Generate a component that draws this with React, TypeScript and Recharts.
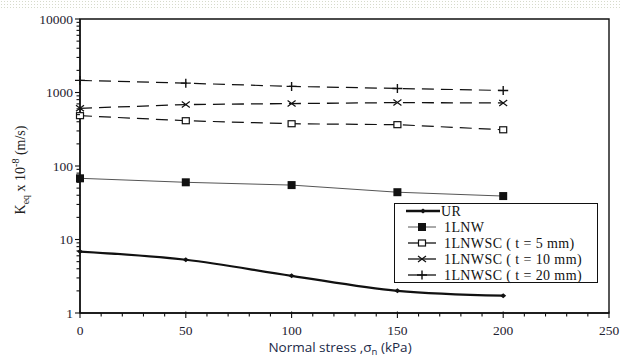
import React from "react";
import {
  LineChart,
  Line,
  XAxis,
  YAxis,
  Legend,
  ReferenceArea,
} from "recharts";

const stress = [0, 50, 100, 150, 200];
const ur = [6.85, 5.3, 3.2, 2.0, 1.72];
const lnw = [68, 60, 55, 44, 39];
const lnwsc5 = [484, 413, 376, 365, 311];
const lnwsc10 = [610, 685, 707, 729, 720];
const lnwsc20 = [1460, 1340, 1210, 1135, 1065];

const xTicks = [0, 10, 20, 30, 40, 50, 60, 70, 80, 90, 100, 110, 120, 130, 140, 150, 160, 170, 180, 190, 200, 210, 220, 230, 240, 250];
const xLabels = [0, 50, 100, 150, 200, 250];
const yLabels = [1, 10, 100, 1000, 10000];
const yTicks = [
  1, 2, 3, 4, 5, 6, 7, 8, 9,
  10, 20, 30, 40, 50, 60, 70, 80, 90,
  100, 200, 300, 400, 500, 600, 700, 800, 900,
  1000, 2000, 3000, 4000, 5000, 6000, 7000, 8000, 9000,
  10000,
];

const data = stress.map((s, i) => ({
  s,
  ur: ur[i],
  lnw: lnw[i],
  c5: lnwsc5[i],
  c10: lnwsc10[i],
  c20: lnwsc20[i],
}));

type Kind = "diamond" | "square" | "open" | "cross" | "plus";

const series: { key: string; name: string; kind: Kind; width: number; color: string; dash?: string; curve: "monotone" | "linear" }[] = [
  { key: "ur", name: "UR", kind: "diamond", width: 2.2, color: "#111", curve: "monotone" },
  { key: "lnw", name: "1LNW", kind: "square", width: 1, color: "#555", curve: "linear" },
  { key: "c5", name: "1LNWSC  ( t = 5 mm)", kind: "open", width: 1.2, color: "#111", dash: "12 7", curve: "linear" },
  { key: "c10", name: "1LNWSC ( t = 10 mm)", kind: "cross", width: 1.3, color: "#111", dash: "12 7", curve: "linear" },
  { key: "c20", name: "1LNWSC ( t = 20 mm)", kind: "plus", width: 1.2, color: "#111", dash: "12 7", curve: "linear" },
];

const serif = "'Liberation Serif', 'Times New Roman', serif";

function Marker({ kind, cx, cy }: { kind: Kind; cx: number; cy: number }) {
  if (kind === "diamond")
    return <path d={`M${cx - 3},${cy} L${cx},${cy - 2.5} L${cx + 3},${cy} L${cx},${cy + 2.5} Z`} fill="#111" />;
  if (kind === "square")
    return <rect x={cx - 4} y={cy - 4} width={8} height={8} fill="#111" />;
  if (kind === "open")
    return <rect x={cx - 3.5} y={cy - 3} width={7} height={6} fill="#fff" stroke="#111" strokeWidth={1.2} />;
  if (kind === "cross")
    return (
      <path d={`M${cx - 4},${cy - 3} L${cx + 4},${cy + 3} M${cx - 4},${cy + 3} L${cx + 4},${cy - 3}`} stroke="#111" strokeWidth={1.2} />
    );
  return (
    <path d={`M${cx - 5},${cy} L${cx + 5},${cy} M${cx},${cy - 4.5} L${cx},${cy + 4.5}`} stroke="#111" strokeWidth={1.4} />
  );
}

function YTick(props: any) {
  const { x, y, payload } = props;
  const major = yLabels.includes(payload.value);
  return (
    <g>
      <line x1={x - (major ? 5 : 3.5)} x2={x} y1={y} y2={y} stroke="#111" strokeWidth={1.1} />
      {major && (
        <text x={x - 7} y={y} textAnchor="end" dominantBaseline="central" fontFamily={serif} fontSize={13.5} fill="#1e2230">
          {payload.value}
        </text>
      )}
    </g>
  );
}

function XTick(props: any) {
  const { x, y, payload } = props;
  const major = xLabels.includes(payload.value);
  return (
    <g>
      <line x1={x} x2={x} y1={y - (major ? 1.5 : 0)} y2={y + (major ? 5 : 3.5)} stroke="#111" strokeWidth={1.1} />
      {major && (
        <text x={x} y={y + 17} textAnchor="middle" dominantBaseline="central" fontFamily={serif} fontSize={13.5} fill="#1e2230">
          {payload.value}
        </text>
      )}
    </g>
  );
}

function LegendBox() {
  return (
    <div
      style={{
        width: 204,
        height: 80,
        border: "1.3px solid #111",
        background: "#fff",
        boxSizing: "border-box",
      }}
    >
      <svg width={201} height={77} style={{ overflow: "visible" }}>
        {series.map((s, i) => {
          const y = 7 + i * 16;
          return (
            <g key={s.key}>
              <line x1={s.kind === "diamond" ? 11 : 13} x2={s.kind === "diamond" ? 45 : 41} y1={y} y2={y} stroke={s.color} strokeWidth={s.kind === "diamond" ? 2.4 : s.kind === "square" ? 1 : 1.3} />
              <Marker kind={s.kind} cx={s.kind === "diamond" ? 28 : 27} cy={y} />
              <text x={s.kind === "diamond" ? 46 : 49} y={y} dominantBaseline="central" fontFamily={serif} fontSize={14} letterSpacing={0.4} fill="#111">
                {s.name}
              </text>
            </g>
          );
        })}
      </svg>
    </div>
  );
}

export default function App() {
  return (
    <div style={{ position: "absolute", left: 0, top: 0, width: 621, height: 363, background: "#fff" }}>
      <div
        style={{
          position: "absolute",
          left: 0,
          top: 0,
          width: 621,
          height: 9,
          backgroundImage: "radial-gradient(#d6dacb 0.8px, transparent 0.9px)",
          backgroundSize: "3px 3px",
        }}
      />
      <LineChart width={621} height={363} data={data} margin={{ top: 19, right: 12, left: 0, bottom: 8 }}>
        <ReferenceArea x1={0} x2={250} y1={1} y2={10000} fill="none" stroke="#111" strokeWidth={1.4} ifOverflow="visible" />
        <XAxis
          dataKey="s"
          type="number"
          domain={[0, 250]}
          ticks={xTicks}
          interval={0}
          height={42}
          tickSize={0}
          tickMargin={0}
          tickLine={false}
          axisLine={{ stroke: "#111", strokeWidth: 1.4 }}
          tick={<XTick />}
          label={{
            content: () => (
              <text x={340} y={352} textAnchor="middle" fontFamily="'Open Sans', sans-serif" fontSize={13.5} fill="#1c2a48">
                Normal stress ,σ
                <tspan fontSize={9.5} dy={3}>n</tspan>
                <tspan dy={-3}> (kPa)</tspan>
              </text>
            ),
          }}
        />
        <YAxis
          scale="log"
          domain={[1, 10000]}
          allowDataOverflow
          ticks={yTicks}
          interval={0}
          width={80}
          tickSize={0}
          tickMargin={0}
          tickLine={false}
          axisLine={{ stroke: "#111", strokeWidth: 1.4 }}
          tick={<YTick />}
          label={{
            content: () => (
              <text transform="translate(25,170) rotate(-90)" textAnchor="middle" fontFamily={serif} fontSize={14} fill="#222">
                K
                <tspan fontSize={10} dy={4}>eq</tspan>
                <tspan dy={-4}> x 10</tspan>
                <tspan fontSize={10} dy={-6}>-8</tspan>
                <tspan dy={6}> (m/s)</tspan>
              </text>
            ),
          }}
        />
        {series.map((s) => (
          <Line
            key={s.key}
            dataKey={s.key}
            name={s.name}
            type={s.curve}
            stroke={s.color}
            strokeWidth={s.width}
            strokeDasharray={s.dash}
            isAnimationActive={false}
            dot={(p: any) => <Marker key={`${s.key}-${p.index}`} kind={s.kind} cx={p.cx} cy={p.cy} />}
            activeDot={false}
          />
        ))}
        <Legend
          layout="vertical"
          align="center"
          verticalAlign="middle"
          content={() => <LegendBox />}
          wrapperStyle={{ left: 394, top: 203, width: 204, height: 80 }}
        />
      </LineChart>
    </div>
  );
}
